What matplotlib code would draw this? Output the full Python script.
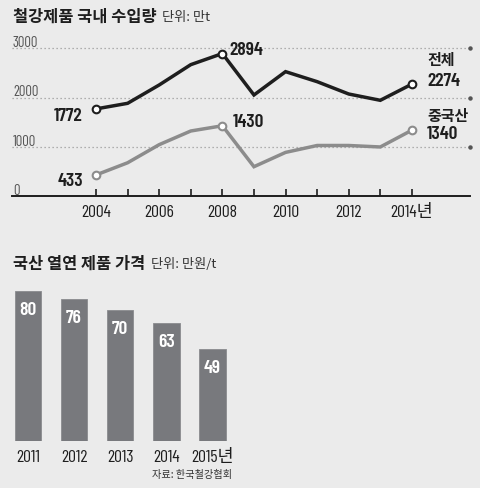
import matplotlib
matplotlib.use("Agg")
import matplotlib.pyplot as plt
from matplotlib import font_manager

# ---------------------------------------------------------------------------
# Data
# ---------------------------------------------------------------------------
years = [2004, 2005, 2006, 2007, 2008, 2009, 2010, 2011, 2012, 2013, 2014]
total_import = [1772, 1885, 2257, 2669, 2894, 2054, 2527, 2324, 2074, 1946, 2274]
china_import = [433, 680, 1047, 1324, 1430, 600, 890, 1030, 1030, 1000, 1340]
year_ticks = [2004, 2006, 2008, 2010, 2012, 2014]
year_tick_labels = ["2004", "2006", "2008", "2010", "2012", "2014년"]
y_ticks = [0, 1000, 2000, 3000]

price_years = ["2011", "2012", "2013", "2014", "2015년"]
price_values = [80, 76, 70, 63, 49]

BG = "#ebebeb"
DARK = "#1e1e1e"
GRAY_LINE = "#8c8c8c"
BAR = "#78797d"

installed = {f.name for f in font_manager.fontManager.ttflist}
NUM = [n for n in ["Barlow Condensed", "Roboto Condensed", "Archivo Narrow"]
       if n in installed][:1]
KR = ["Noto Sans CJK KR"]
MIX = NUM + KR + ["DejaVu Sans"]
plt.rcParams["font.family"] = MIX

W, H = 480, 489
fig = plt.figure(figsize=(W / 100, H / 100), dpi=100, facecolor=BG)


def px(x, y):
    """pixel coords (top-left origin) -> figure fraction"""
    return x / W, 1 - y / H


# ---------------------------------------------------------------------------
# Top: import volume line chart
# ---------------------------------------------------------------------------
ax1 = fig.add_axes([12 / W, 1 - 197.3 / H, 458 / W, 157.3 / H])
ax1.set_facecolor(BG)
ax1.set_xlim(2001.34, 2015.84)
ax1.set_ylim(0, 3189)
for s in ["top", "right", "left"]:
    ax1.spines[s].set_visible(False)
ax1.spines["bottom"].set_color(DARK)
ax1.spines["bottom"].set_linewidth(1.4)
for v in y_ticks[1:]:
    ax1.axhline(v, color="#9a9a9a", lw=0.9, ls=(0, (1, 2.2)), zorder=1)
    ax1.plot([2015.84], [v], marker="o", ms=2.2, color="#555555", clip_on=False, zorder=1)
for v in y_ticks:
    ax1.text(2001.37, v + 50, str(v), fontsize=10.5, color="#555555",
             ha="left", va="baseline", family=MIX)

ax1.set_xticks(years)
ax1.set_xticklabels([""] * len(years))
ax1.tick_params(axis="x", direction="in", length=5, width=1.2, color=DARK, pad=0)
ax1.set_yticks([])
for yr, lab in zip(year_ticks, year_tick_labels):
    ax1.text(yr, -405, lab, fontsize=12.6, color=DARK, ha="center", va="baseline",
             family=MIX)

ax1.plot(years, total_import, color=DARK, lw=2.5, solid_joinstyle="miter", zorder=3)
ax1.plot(years, china_import, color=GRAY_LINE, lw=2.5, solid_joinstyle="miter", zorder=3)
for ser, col in [(total_import, DARK), (china_import, GRAY_LINE)]:
    idx = [0, 4, 10]
    ax1.plot([years[i] for i in idx], [ser[i] for i in idx], ls="none", marker="o",
             ms=5.5, mfc="white", mec=col, mew=1.5, zorder=4)

lab_kw = dict(fontsize=14, fontweight="semibold", color=DARK, family=MIX, va="baseline")
kr_kw = dict(fontsize=10.8, fontweight="bold", color=DARK, family=KR, va="baseline")
ax1.text(2003.58, 1553, "1772", ha="right", **lab_kw)
ax1.text(2003.58, 235, "433", ha="right", **lab_kw)
ax1.text(2008.22, 2894, "2894", ha="left", **lab_kw)
ax1.text(2008.32, 1419, "1430", ha="left", **lab_kw)
ax1.text(2014.48, 2685, "전체", ha="left", **kr_kw)
ax1.text(2014.48, 2256, "2274", ha="left", **lab_kw)
ax1.text(2014.48, 1550, "중국산", ha="left", **kr_kw)
ax1.text(2014.48, 1174, "1340", ha="left", **lab_kw)

fig.text(*px(13, 17), "철강제품 국내 수입량", fontsize=11.8, fontweight="bold",
         color=DARK, ha="left", va="center", family=KR)
fig.text(*px(162, 18), "단위: 만t", fontsize=9.5, color="#333333",
         ha="left", va="center", family=KR)

# ---------------------------------------------------------------------------
# Bottom: domestic hot-rolled price bar chart
# ---------------------------------------------------------------------------
ax2 = fig.add_axes([0, 1 - 442.3 / H, 240 / W, 162.3 / H])
ax2.patch.set_alpha(0)
ax2.set_xlim(-0.602, 4.593)
ax2.set_ylim(0, 86.56)
ax2.axis("off")
xs = list(range(len(price_values)))
ax2.bar(xs, price_values, width=0.57, color=BAR, edgecolor="#8a8b8f", lw=0.6, zorder=2)
for x, v, lab in zip(xs, price_values, price_years):
    ax2.text(x, v - 12.3, str(v), ha="center", va="baseline", color="white",
             fontsize=14, fontweight="semibold", family=MIX)
    ax2.text(x, -10.35, lab, ha="center", va="baseline", color=DARK,
             fontsize=12.6, family=MIX, clip_on=False)

fig.text(*px(13, 264), "국산 열연 제품 가격", fontsize=11.8, fontweight="bold",
         color=DARK, ha="left", va="center", family=KR)
fig.text(*px(151, 265), "단위: 만원/t", fontsize=9.5, color="#333333",
         ha="left", va="center", family=KR)
fig.text(*px(152, 475), "자료: 한국철강협회", fontsize=7.3, color="#333333",
         ha="left", va="center", family=KR)

fig.savefig("out.png", dpi=100, facecolor=BG)
